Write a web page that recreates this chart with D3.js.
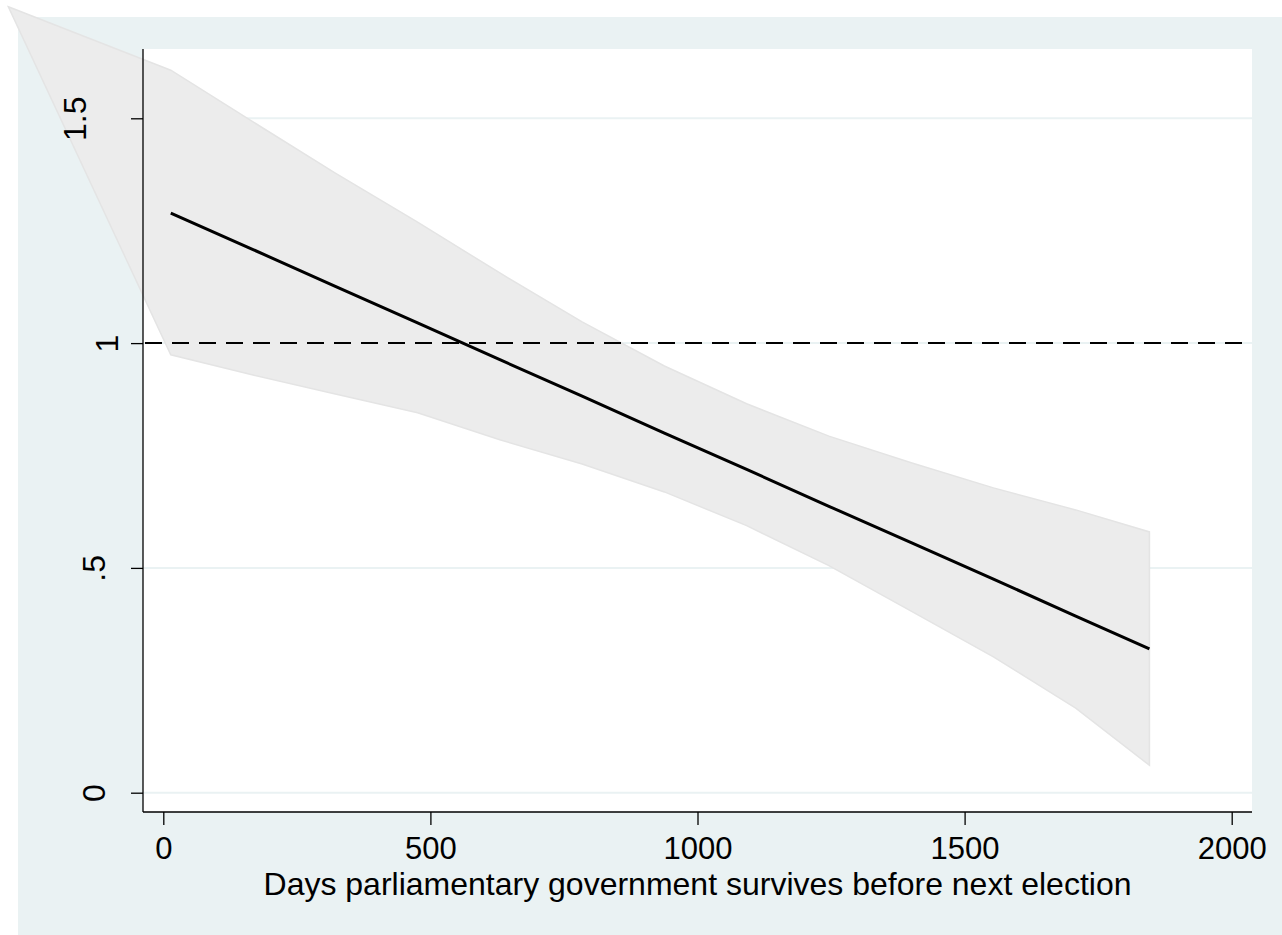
<!DOCTYPE html>
<html>
<head>
<meta charset="utf-8">
<script src="https://cdn.jsdelivr.net/npm/d3@7"></script>
<style>
  body { margin: 0; background: #fff; }
  svg { display: block; }
  text { font-family: "Liberation Sans", Arial, Helvetica, sans-serif; fill: #000; }
</style>
</head>
<body>
<svg id="chart" width="1282" height="935"></svg>
<script>
// confidence band (first point is the stray vertex that sits off the plot)
const bandDays  = [-290, 14, 168, 322, 476, 630, 784, 938, 1092, 1246, 1400, 1554, 1708, 1846];
const bandUpper = [1.748, 1.607, 1.492, 1.378, 1.269, 1.156, 1.047, 0.949, 0.865, 0.793, 0.734, 0.678, 0.629, 0.580];
const bandLower = [1.748, 0.974, 0.929, 0.887, 0.845, 0.785, 0.731, 0.669, 0.594, 0.505, 0.404, 0.302, 0.188, 0.061];

// fitted line
const fitDays   = [14, 168, 322, 476, 630, 784, 938, 1092, 1246, 1400, 1554, 1708, 1846];
const fitValues = [1.289, 1.208, 1.126, 1.045, 0.963, 0.882, 0.800, 0.719, 0.637, 0.556, 0.475, 0.393, 0.320];

const xTicks = [0, 500, 1000, 1500, 2000];
const yTicks = [0, 0.5, 1, 1.5];
const yTickLabels = ["0", ".5", "1", "1.5"];
const refLine = 1;
const xTitle = "Days parliamentary government survives before next election";

const svg = d3.select("#chart");
const fontSize = 32;

// plot region in pixels
const plotLeft = 143, plotRight = 1252, plotTop = 49, plotBottom = 812;

const x = d3.scaleLinear().domain([0, 2000]).range([163.3, 1231.7]);
const y = d3.scaleLinear().domain([0, 1.5]).range([792.7, 118.3]);

// outer graph region
svg.append("rect")
    .attr("x", 18).attr("y", 17)
    .attr("width", 1282 - 18).attr("height", 935 - 17)
    .attr("fill", "#eaf2f3");

// plot region
svg.append("rect")
    .attr("x", plotLeft).attr("y", plotTop)
    .attr("width", plotRight - plotLeft).attr("height", plotBottom - plotTop)
    .attr("fill", "#fff");

// gridlines
svg.append("g")
    .selectAll("line")
    .data(yTicks)
    .join("line")
    .attr("x1", plotLeft).attr("x2", plotRight)
    .attr("y1", d => y(d)).attr("y2", d => y(d))
    .attr("stroke", "#eaf2f3")
    .attr("stroke-width", 2);

// band
const band = bandDays.map((d, i) => [d, bandLower[i], bandUpper[i]]);
const area = d3.area()
    .x(d => x(d[0]))
    .y0(d => y(d[1]))
    .y1(d => y(d[2]));

svg.append("path")
    .datum(band)
    .attr("d", area)
    .attr("fill", "#ececec")
    .attr("stroke", "#e4e4e4")
    .attr("stroke-width", 1.5);

// fitted line
const line = d3.line()
    .x(d => x(d[0]))
    .y(d => y(d[1]));

svg.append("path")
    .datum(fitDays.map((d, i) => [d, fitValues[i]]))
    .attr("d", line)
    .attr("fill", "none")
    .attr("stroke", "#000")
    .attr("stroke-width", 3);

// reference line at 1
svg.append("line")
    .attr("x1", plotLeft + 2).attr("x2", plotRight)
    .attr("y1", y(refLine)).attr("y2", y(refLine))
    .attr("stroke", "#000")
    .attr("stroke-width", 2)
    .attr("stroke-dasharray", "17,10");

// axes
const xAxis = d3.axisBottom(x)
    .tickValues(xTicks)
    .tickSize(13)
    .tickSizeOuter(0)
    .tickFormat(d3.format("d"));

const gx = svg.append("g")
    .attr("transform", `translate(0,${plotBottom})`)
    .call(xAxis);
gx.select(".domain").remove();
gx.selectAll(".tick line").attr("stroke", "#000").attr("stroke-width", 1.3);
gx.selectAll(".tick text")
    .attr("y", 47)
    .attr("dy", 0)
    .attr("font-size", 31)
    .style("font-family", "'Liberation Sans', Arial, sans-serif");

svg.append("line")
    .attr("x1", plotLeft).attr("x2", plotRight)
    .attr("y1", plotBottom).attr("y2", plotBottom)
    .attr("stroke", "#000").attr("stroke-width", 1.3);

const yAxis = d3.axisLeft(y)
    .tickValues(yTicks)
    .tickSize(12)
    .tickSizeOuter(0)
    .tickFormat((d, i) => yTickLabels[i]);

const gy = svg.append("g")
    .attr("transform", `translate(${plotLeft},0)`)
    .call(yAxis);
gy.select(".domain").remove();
gy.selectAll(".tick line").attr("stroke", "#000").attr("stroke-width", 1.3);

// rotated labels; baselines differ per label in the original
const labelBase = {0: 105, 0.5: 105, 1: 118, 1.5: 86};
gy.selectAll(".tick text")
    .attr("x", null).attr("dy", null)
    .attr("transform", d => `translate(${labelBase[d] - plotLeft},0) rotate(-90)`)
    .attr("text-anchor", "middle")
    .attr("font-size", fontSize)
    .style("font-family", "'Liberation Sans', Arial, sans-serif");

svg.append("line")
    .attr("x1", plotLeft).attr("x2", plotLeft)
    .attr("y1", plotTop).attr("y2", plotBottom)
    .attr("stroke", "#000").attr("stroke-width", 1.3);

// x title
svg.append("text")
    .attr("x", (plotLeft + plotRight) / 2)
    .attr("y", 895)
    .attr("text-anchor", "middle")
    .attr("font-size", fontSize)
    .text(xTitle);
</script>
</body>
</html>
